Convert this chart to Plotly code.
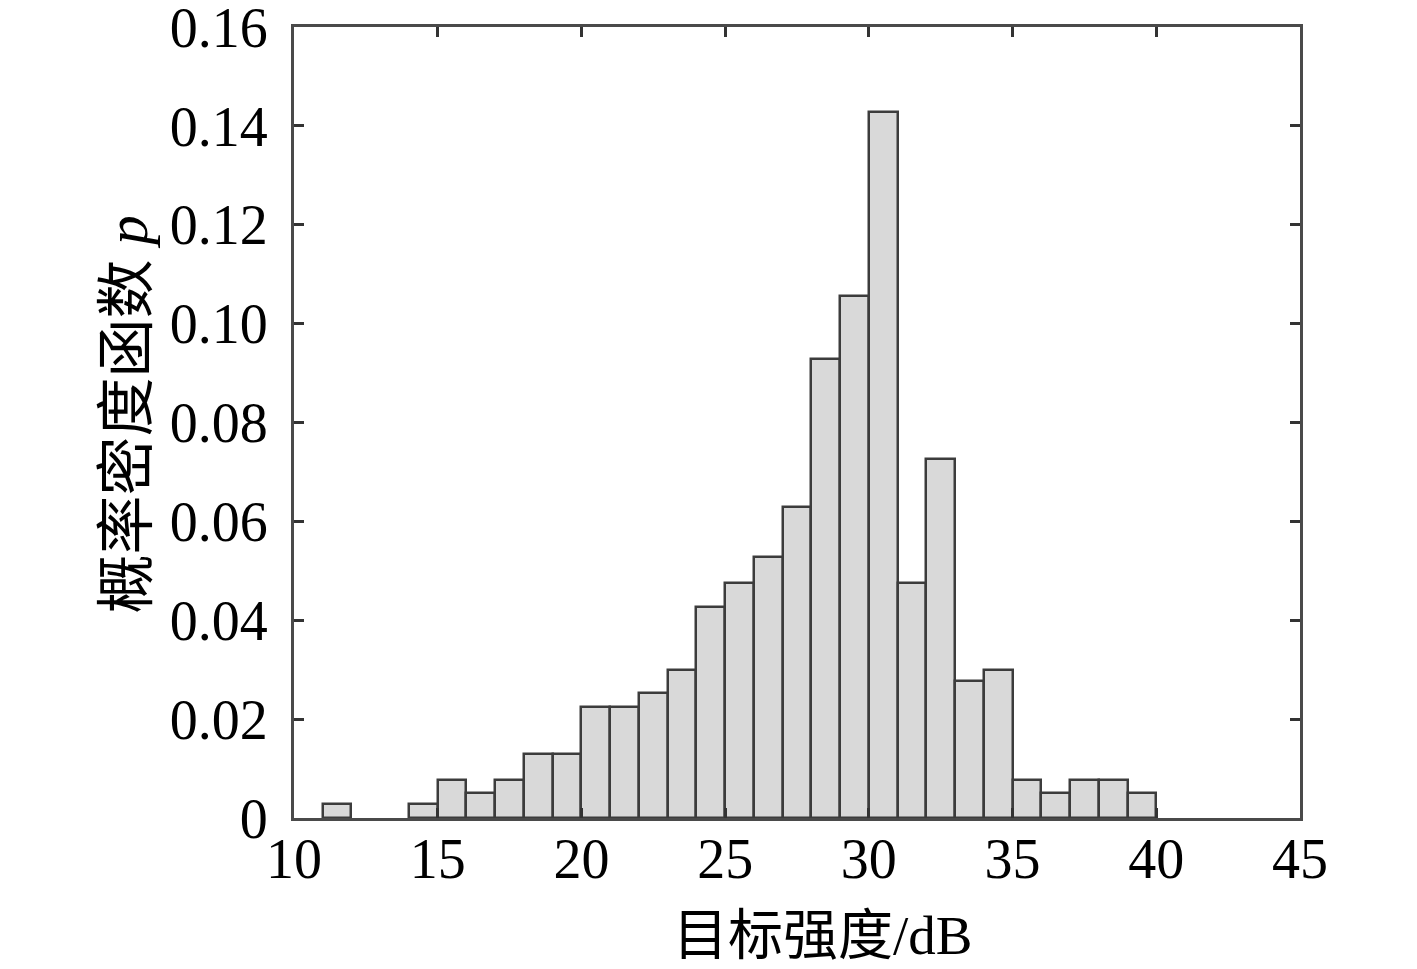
import plotly.graph_objects as go

bin_left = [11, 14, 15, 16, 17, 18, 19, 20, 21, 22, 23, 24, 25, 26, 27, 28, 29,
            30, 31, 32, 33, 34, 35, 36, 37, 38, 39]
density = [0.0028, 0.0028, 0.0077, 0.0051, 0.0077, 0.0129, 0.0129, 0.0224, 0.0224,
           0.0253, 0.0299, 0.0427, 0.0475, 0.0528, 0.0629, 0.0928, 0.1056, 0.1428,
           0.0475, 0.0726, 0.0277, 0.0299, 0.0077, 0.0051, 0.0077, 0.0077, 0.0051]
bin_width = 1.0

x_ticks = [10, 15, 20, 25, 30, 35, 40, 45]
y_ticks = [0, 0.02, 0.04, 0.06, 0.08, 0.10, 0.12, 0.14, 0.16]
y_tick_text = ["0", "0.02", "0.04", "0.06", "0.08", "0.10", "0.12", "0.14", "0.16"]

x_title = "目标强度/dB"
y_title = "概率密度函数 <i>p</i>"

centers = [b + bin_width / 2 for b in bin_left]

serif = "Liberation Serif, Times New Roman, serif"
cjk = "Liberation Serif, Noto Sans CJK SC, serif"

fig = go.Figure()
fig.add_trace(go.Bar(
    x=centers, y=density, width=bin_width,
    marker=dict(color="#d9d9d9", line=dict(color="#3c3c3c", width=2.5)),
    showlegend=False,
))

axis_common = dict(
    showline=True, linecolor="#4a4a4a", linewidth=3, mirror="ticks",
    ticks="inside", ticklen=10, tickwidth=2.5, tickcolor="#333333",
    showgrid=False, zeroline=False, ticklabeloverflow="allow", automargin=False,
    tickfont=dict(family=serif, size=56, color="black"),
)

fig.update_layout(
    width=1417, height=969,
    paper_bgcolor="white", plot_bgcolor="white",
    margin=dict(l=286, r=125, t=19, b=159),
    xaxis=dict(range=[10, 45.0001], tickvals=x_ticks, ticklabelstandoff=-10, **axis_common),
    yaxis=dict(range=[0, 0.16001], tickvals=y_ticks, ticktext=y_tick_text,
               ticklabelstandoff=12, **axis_common),
    bargap=0,
    annotations=[
        dict(text=x_title, xref="paper", yref="paper", x=0.525, y=-0.148,
             xanchor="center", yanchor="middle", showarrow=False,
             font=dict(family=cjk, size=55, color="black")),
        dict(text=y_title, xref="paper", yref="paper", x=-0.166, y=0.51,
             xanchor="center", yanchor="middle", showarrow=False, textangle=-90,
             font=dict(family=cjk, size=59, color="black")),
    ],
)

fig.write_html("out.html")
